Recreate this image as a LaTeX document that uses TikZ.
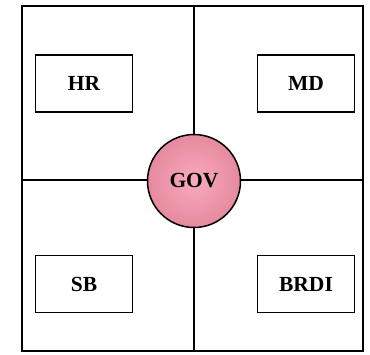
\documentclass[tikz,border=0pt]{standalone}
\usepackage{fontspec}
\setmainfont{Liberation Serif}
\definecolor{govin}{RGB}{248,170,188}
\definecolor{govout}{RGB}{230,138,158}
\begin{document}
\begin{tikzpicture}[x=1pt,y=-1pt,
  frame/.style={draw=black,line width=1.6pt},
  unit/.style={draw=black,line width=1.5pt,minimum width=97pt,minimum height=57pt,
    font=\bfseries\fontsize{21.5}{25}\selectfont,inner sep=0pt},
  hub/.style={circle,draw=black,line width=1.5pt,minimum size=93pt,inner sep=0pt,
    inner color=govin,outer color=govout,font=\bfseries\fontsize{21.5}{25}\selectfont}]
\useasboundingbox (0,0) rectangle (370,354);
% outer frame and quadrant dividers
\draw[frame] (22,6) rectangle (363,351);
\coordinate (top) at (194,6);
\coordinate (bot) at (194,351);
\coordinate (lft) at (22,180);
\coordinate (rgt) at (363,180);
\draw[frame] (top) -- (bot);
\draw[frame] (lft) -- (rgt);
% units in each quadrant
\node[unit] (hr) at (84,83.5) {HR};
\node[unit] (md) at (306,83.5) {MD};
\node[unit] (sb) at (84,284) {SB};
\node[unit] (brdi) at (306,284) {BRDI};
% central hub
\node[hub] (gov) at (194,181) {GOV};
\end{tikzpicture}
\end{document}
